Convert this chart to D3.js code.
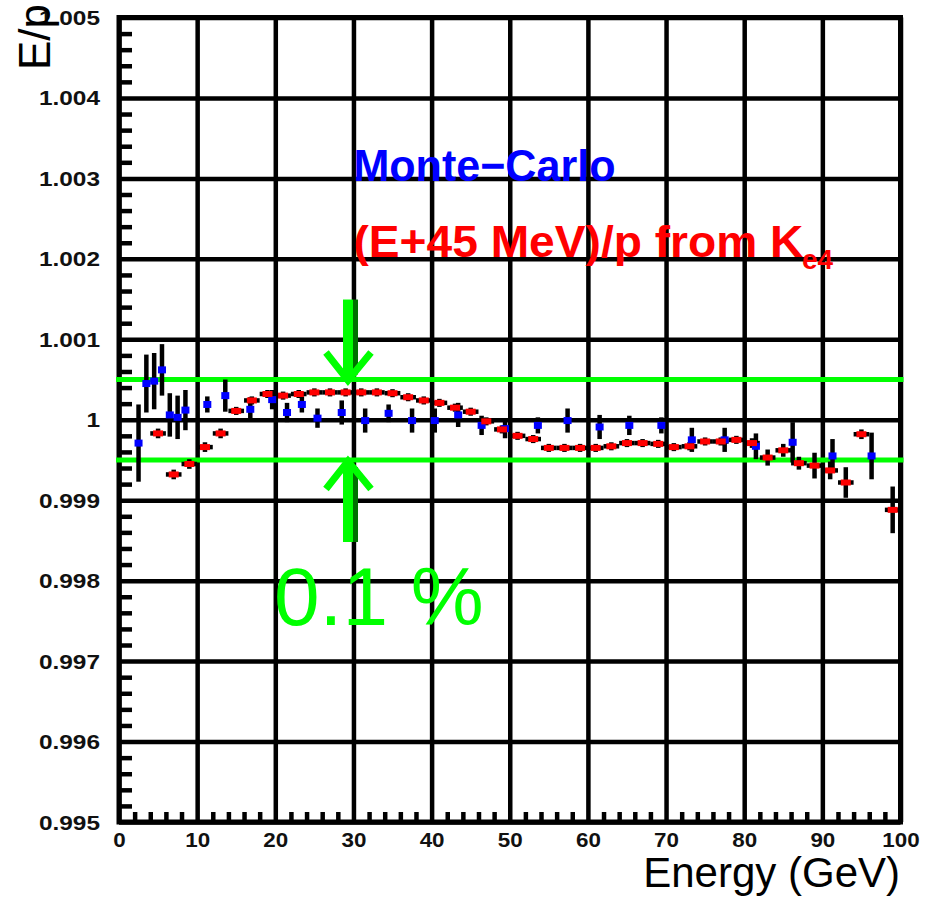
<!DOCTYPE html>
<html>
<head>
<meta charset="utf-8">
<script src="https://cdn.jsdelivr.net/npm/d3@7"></script>
<style>
  body { margin: 0; background: #fff; }
  svg { display: block; font-family: "Liberation Sans", Arial, Helvetica, sans-serif; }
</style>
</head>
<body>
<svg id="chart" width="925" height="900"></svg>
<script>
// Axis ticks
const energyTicks = [0, 10, 20, 30, 40, 50, 60, 70, 80, 90, 100];
const energyLabels = ["0", "10", "20", "30", "40", "50", "60", "70", "80", "90", "100"];
const ratioTicks = [0.995, 0.996, 0.997, 0.998, 0.999, 1.000, 1.001, 1.002, 1.003, 1.004, 1.005];
const ratioLabels = ["0.995", "0.996", "0.997", "0.998", "0.999", "1", "1.001", "1.002", "1.003", "1.004", "1.005"];

// Monte-Carlo E/p (blue)
const mcEnergy = [2.5, 3.5, 4.5, 5.5, 6.5, 7.5, 8.5, 11.3, 13.6, 16.8, 19.6, 21.5, 23.4, 25.4,
  28.5, 31.5, 34.5, 37.5, 40.4, 43.4, 46.4, 49.4, 53.6, 57.4, 61.5, 65.3, 69.4, 73.3, 77.5,
  81.5, 86.2, 91.3, 96.3];
const mcRatio = [0.99971, 1.00045, 1.00048, 1.00062, 1.00006, 1.00003, 1.00012, 1.00019, 1.00030,
  1.00013, 1.00025, 1.00009, 1.00019, 1.00002, 1.00009, 0.99999, 1.00008, 0.99999, 0.99999,
  1.00006, 0.99993, 0.99989, 0.99993, 0.99999, 0.99991, 0.99993, 0.99993, 0.99975, 0.99975,
  0.99967, 0.99972, 0.99955, 0.99955];
const mcError = [0.00048, 0.00036, 0.00035, 0.00032, 0.00027, 0.00027, 0.00025, 0.00010, 0.00020,
  0.00015, 0.00012, 0.00012, 0.00010, 0.00012, 0.00015, 0.00015, 0.00011, 0.00015, 0.00015,
  0.00015, 0.00012, 0.00012, 0.00010, 0.00015, 0.00015, 0.00012, 0.00010, 0.00015, 0.00015,
  0.00016, 0.00025, 0.00021, 0.00029];

// (E+45 MeV)/p from Ke4 (red), 2 GeV bins
const dataEnergy = [5, 7, 9, 11, 13, 15, 17, 19, 21, 23, 25, 27, 29, 31, 33, 35, 37, 39, 41, 43,
  45, 47, 49, 51, 53, 55, 57, 59, 61, 63, 65, 67, 69, 71, 73, 75, 77, 79, 81, 83, 85, 87, 89,
  91, 93, 95, 99];
const dataRatio = [0.99983, 0.99932, 0.99945, 0.99966, 0.99983, 1.00011, 1.00024, 1.00032, 1.00030,
  1.00032, 1.00034, 1.00034, 1.00034, 1.00034, 1.00034, 1.00033, 1.00028, 1.00024, 1.00021,
  1.00015, 1.00010, 0.99998, 0.99988, 0.99980, 0.99976, 0.99965, 0.99965, 0.99965, 0.99965,
  0.99967, 0.99971, 0.99971, 0.99970, 0.99966, 0.99967, 0.99973, 0.99973, 0.99975, 0.99971,
  0.99953, 0.99962, 0.99946, 0.99943, 0.99937, 0.99922, 0.99982, 0.99888];
const dataError = [0.00006, 0.00006, 0.00006, 0.00006, 0.00006, 0.00005, 0.00005, 0.00005, 0.00005,
  0.00005, 0.00005, 0.00005, 0.00005, 0.00005, 0.00005, 0.00005, 0.00005, 0.00005, 0.00005,
  0.00005, 0.00005, 0.00005, 0.00005, 0.00005, 0.00005, 0.00005, 0.00005, 0.00005, 0.00005,
  0.00005, 0.00005, 0.00005, 0.00005, 0.00005, 0.00005, 0.00005, 0.00005, 0.00005, 0.00006,
  0.00010, 0.00008, 0.00008, 0.00016, 0.00011, 0.00019, 0.00006, 0.00029];
const dataBinHalfWidth = 1;

// ±0.05 % band around unity
const bandLimits = [0.9995, 1.0005];
const arrowEnergy = 29.3;

const mc = mcEnergy.map((e, i) => ({ e, r: mcRatio[i], err: mcError[i] }));
const data = dataEnergy.map((e, i) => ({ e, r: dataRatio[i], err: dataError[i] }));

const svg = d3.select("#chart");
const x = d3.scaleLinear().domain([0, 100]).range([119, 900.5]);
const y = d3.scaleLinear().domain([0.995, 1.005]).range([822, 17.5]);
const [x0, x1] = x.range();
const [yb, yt] = y.range();
const GRID_W = 4.5;

// Grid lines at the major ticks
svg.append("g")
  .attr("transform", `translate(0,${yb})`)
  .call(d3.axisBottom(x).tickValues(energyTicks).tickSize(-(yb - yt)).tickFormat(""))
  .call(g => g.select(".domain").remove())
  .selectAll("line").attr("stroke", "#000").attr("stroke-width", GRID_W);

svg.append("g")
  .attr("transform", `translate(${x0},0)`)
  .call(d3.axisLeft(y).tickValues(ratioTicks).tickSize(-(x1 - x0)).tickFormat(""))
  .call(g => g.select(".domain").remove())
  .selectAll("line").attr("stroke", "#000").attr("stroke-width", GRID_W);

// Minor ticks (4 between majors)
const minorX = d3.range(0, 51).filter(i => i % 5 !== 0).map(i => i * 2);
const minorY = d3.range(0, 51).filter(i => i % 5 !== 0).map(i => 0.995 + i * 0.0002);

svg.append("g")
  .attr("transform", `translate(0,${yb})`)
  .call(d3.axisBottom(x).tickValues(minorX).tickSize(-10).tickFormat(""))
  .call(g => g.select(".domain").remove())
  .selectAll("line").attr("stroke", "#000").attr("stroke-width", GRID_W);

svg.append("g")
  .attr("transform", `translate(${x0},0)`)
  .call(d3.axisLeft(y).tickValues(minorY).tickSize(-13).tickFormat(""))
  .call(g => g.select(".domain").remove())
  .selectAll("line").attr("stroke", "#000").attr("stroke-width", GRID_W);

// Frame
svg.append("rect")
  .attr("x", x0).attr("y", yt)
  .attr("width", x1 - x0).attr("height", yb - yt)
  .attr("fill", "none").attr("stroke", "#000").attr("stroke-width", 5);

// Tick labels
svg.append("g")
  .attr("transform", `translate(0,${yb})`)
  .call(d3.axisBottom(x).tickValues(energyTicks).tickSize(0)
    .tickFormat((d, i) => energyLabels[i]))
  .call(g => g.select(".domain").remove())
  .selectAll("text")
  .attr("y", null).attr("dy", null)
  .attr("transform", "translate(0,25) scale(1.12,1)")
  .attr("font-size", 20).attr("font-weight", "bold")
  .attr("font-family", "'Liberation Sans', Arial, sans-serif")
  .attr("fill", "#111");

svg.append("g")
  .attr("transform", `translate(${x0},0)`)
  .call(d3.axisLeft(y).tickValues(ratioTicks).tickSize(0)
    .tickFormat((d, i) => ratioLabels[i]))
  .call(g => g.select(".domain").remove())
  .selectAll("text")
  .attr("x", 0).attr("dy", null)
  .attr("text-anchor", "end")
  .attr("transform", "translate(-19,7) scale(1.22,1)")
  .attr("font-size", 20).attr("font-weight", "bold")
  .attr("font-family", "'Liberation Sans', Arial, sans-serif")
  .attr("fill", "#111");

// Axis titles
svg.append("text")
  .attr("x", 900).attr("y", 887)
  .attr("text-anchor", "end")
  .attr("font-size", 42)
  .attr("fill", "#000")
  .text("Energy (GeV)");

svg.append("text")
  .attr("transform", "translate(50,4) rotate(-90)")
  .attr("text-anchor", "end")
  .attr("font-size", 44)
  .attr("fill", "#000")
  .text("E/p");

// Green band lines
svg.append("g").selectAll("line")
  .data(bandLimits)
  .join("line")
  .attr("x1", x0 - 3).attr("x2", x1 + 3)
  .attr("y1", d => y(d)).attr("y2", d => y(d))
  .attr("stroke", "#00ff00").attr("stroke-width", 5);

// Legend texts
svg.append("text")
  .attr("x", x(30)).attr("y", 181)
  .attr("font-size", 45).attr("font-weight", "bold")
  .attr("fill", "#0000ff")
  .attr("textLength", 262).attr("lengthAdjust", "spacingAndGlyphs")
  .text("Monte\u2212Carlo");

svg.append("text")
  .attr("x", x(30)).attr("y", 257)
  .attr("font-size", 45).attr("font-weight", "bold")
  .attr("fill", "#ff0000")
  .attr("textLength", 450).attr("lengthAdjust", "spacingAndGlyphs")
  .text("(E+45 MeV)/p from K");

svg.append("text")
  .attr("x", 802).attr("y", 269)
  .attr("font-size", 28).attr("font-weight", "bold")
  .attr("fill", "#ff0000")
  .text("e4");

// Arrows pointing at the band
const ax = x(arrowEnergy);
function arrow(tipY, dir) {
  // dir = +1: arrow points down to tipY; -1: points up
  const g = svg.append("g");
  const tail = tipY - dir * 81;
  g.append("line")
    .attr("x1", ax).attr("x2", ax)
    .attr("y1", tail).attr("y2", tipY)
    .attr("stroke", "#00ff00").attr("stroke-width", 10);
  g.append("line")
    .attr("x1", ax + 7.5).attr("x2", ax + 7.5)
    .attr("y1", tail).attr("y2", tipY - dir * 6)
    .attr("stroke", "#007000").attr("stroke-width", 5);
  g.append("path")
    .attr("d", `M${ax - 22},${tipY - dir * 28} L${ax},${tipY} L${ax + 23},${tipY - dir * 28}`)
    .attr("fill", "none").attr("stroke", "#00ff00")
    .attr("stroke-width", 7).attr("stroke-linejoin", "miter");
}
arrow(y(bandLimits[1]) + 1, 1);
arrow(y(bandLimits[0]) + 1, -1);

svg.append("text")
  .attr("x", 274).attr("y", 625)
  .attr("font-size", 82)
  .attr("fill", "#00ff00")
  .text("0.1 %");

// Error bars
const bars = svg.append("g").attr("stroke", "#000").attr("stroke-width", 4.5);

bars.selectAll("line.mc-err")
  .data(mc)
  .join("line")
  .attr("class", "mc-err")
  .attr("x1", d => x(d.e)).attr("x2", d => x(d.e))
  .attr("y1", d => y(d.r - d.err)).attr("y2", d => y(d.r + d.err));

bars.selectAll("line.data-herr")
  .data(data)
  .join("line")
  .attr("class", "data-herr")
  .attr("x1", d => x(d.e - dataBinHalfWidth)).attr("x2", d => x(d.e + dataBinHalfWidth))
  .attr("y1", d => y(d.r)).attr("y2", d => y(d.r));

bars.selectAll("line.data-verr")
  .data(data)
  .join("line")
  .attr("class", "data-verr")
  .attr("x1", d => x(d.e)).attr("x2", d => x(d.e))
  .attr("y1", d => y(d.r - d.err)).attr("y2", d => y(d.r + d.err));

// Markers
svg.append("g").selectAll("rect")
  .data(mc)
  .join("rect")
  .attr("x", d => x(d.e) - 4).attr("y", d => y(d.r) - 3.5)
  .attr("width", 8).attr("height", 7)
  .attr("fill", "#0000ff");

svg.append("g").selectAll("rect")
  .data(data)
  .join("rect")
  .attr("x", d => x(d.e) - 5).attr("y", d => y(d.r) - 3)
  .attr("width", 10).attr("height", 6)
  .attr("fill", "#ff0000");
</script>
</body>
</html>
